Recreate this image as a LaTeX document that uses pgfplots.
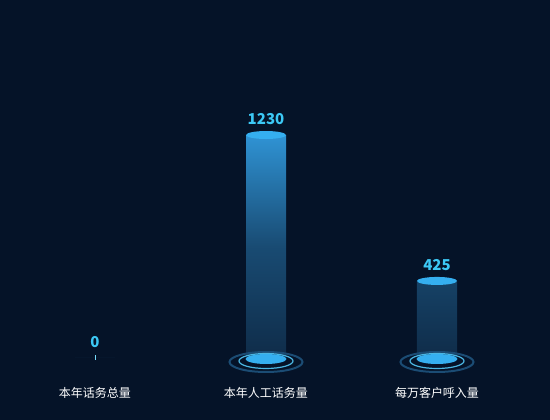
\documentclass[border=0pt]{standalone}
\usepackage{pgfplots}
\pgfplotsset{compat=1.18}
\usepackage{fontspec}
\setmainfont{Noto Sans CJK SC}

\definecolor{bg}{HTML}{051328}
\definecolor{bartop}{HTML}{2F93D4}
\definecolor{barbot}{HTML}{0F2C49}
\definecolor{cap}{HTML}{35AFF0}
\definecolor{vallabel}{HTML}{3CC8F5}
\definecolor{ringin}{HTML}{4BB6E2}
\definecolor{ringout}{HTML}{1B4C74}

% caps and rings for the cylinders
\pgfdeclareplotmark{topcap}{%
  \pgfpathellipse{\pgfpointorigin}{\pgfqpoint{20pt}{0pt}}{\pgfqpoint{0pt}{4pt}}%
  \pgfusepathqfill}
\pgfdeclareplotmark{basedisc}{%
  \pgfpathellipse{\pgfqpoint{0pt}{-1pt}}{\pgfqpoint{20.5pt}{0pt}}{\pgfqpoint{0pt}{5pt}}%
  \pgfusepathqfill}
\pgfdeclareplotmark{ringinner}{%
  \pgfpathellipse{\pgfqpoint{0pt}{-3pt}}{\pgfqpoint{27pt}{0pt}}{\pgfqpoint{0pt}{7.5pt}}%
  \pgfusepathqstroke}
\pgfdeclareplotmark{ringouter}{%
  \pgfpathellipse{\pgfqpoint{0pt}{-4pt}}{\pgfqpoint{36.5pt}{0pt}}{\pgfqpoint{0pt}{10pt}}%
  \pgfusepathqstroke}

\begin{document}
\begin{tikzpicture}
\fill[bg] (0,0) rectangle (550pt,420pt);
\begin{axis}[
  at={(9.5pt,62pt)}, anchor=south west,
  scale only axis, width=513pt, height=253.8pt,
  xmin=-0.5, xmax=2.5, ymin=0, ymax=1400,
  clip=false,
  hide y axis,
  axis x line*=bottom,
  x axis line style={draw=none},
  xtick={0,1,2},
  xticklabels={本年话务总量,本年人工话务量,每万客户呼入量},
  xtick style={draw=none},
  xticklabel style={font=\fontsize{12}{12}\selectfont, text=white, anchor=center, yshift=-35pt},
  /pgf/number format/assume math mode=true,
  /pgf/number format/1000 sep={},
]
% rings under the bars
\addplot[only marks, mark=ringouter, mark options={draw=ringout, line width=2pt}]
  coordinates {(1,0) (2,0)};
\addplot[only marks, mark=ringinner, mark options={draw=ringin, line width=1.2pt}]
  coordinates {(1,0) (2,0)};
% the bars
\addplot[ybar, bar width=40pt, draw=none, top color=bartop, bottom color=barbot,
  middle color=barbot!70!bartop,
  nodes near coords,
  every node near coord/.style={font=\bfseries\fontsize{15}{15}\selectfont, text=vallabel,
    anchor=south, inner sep=0pt, yshift=10pt}]
  coordinates {(0,0) (1,1230) (2,425)};
% caps
\addplot[only marks, mark=basedisc, mark options={fill=cap, draw=none}]
  coordinates {(1,0) (2,0)};
\addplot[only marks, mark=topcap, mark options={fill=cap, draw=none}]
  coordinates {(1,1230) (2,425)};
\addplot[only marks, mark=|, mark size=2.5pt, mark options={draw=vallabel!70!white, line width=0.6pt}]
  coordinates {(0,1)};
\end{axis}
\pgfresetboundingbox
\useasboundingbox (0,0) rectangle (550pt,420pt);
\end{tikzpicture}
\end{document}
